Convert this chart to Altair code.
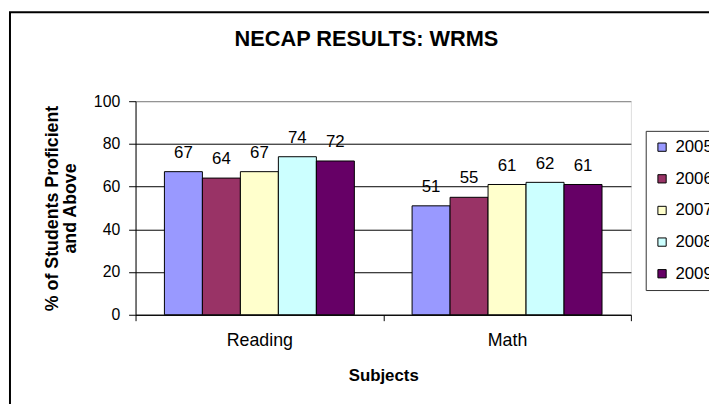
import altair as alt
import pandas as pd

subjects = ["Reading", "Math"]
years = ["2005", "2006", "2007", "2008", "2009"]
reading = [67, 64, 67, 74, 72]
math = [51, 55, 61, 62, 61]
colors = ["#9999FF", "#993366", "#FFFFCC", "#CCFFFF", "#660066"]
y_ticks = [0, 20, 40, 60, 80, 100]

rows = []
for subj, vals in zip(subjects, [reading, math]):
    for yr, v in zip(years, vals):
        rows.append({"subject": subj, "year": yr, "value": v})
df = pd.DataFrame(rows)

FONT = "Liberation Sans"

x_enc = alt.X(
    "subject:N",
    sort=subjects,
    scale=alt.Scale(paddingInner=0, paddingOuter=0),
    axis=alt.Axis(
        title="Subjects",
        labelAngle=0,
        tickBand="extent",
        tickSize=6,
        tickColor="black",
        domainColor="black",
        labelPadding=11,
        labelFontSize=18,
        labelColor="black",
        titleFontSize=17,
        titleFontWeight="bold",
        titleColor="black",
        titlePadding=18,
        labelFont=FONT,
        titleFont=FONT,
    ),
)
xoff_enc = alt.XOffset(
    "year:N", sort=years, scale=alt.Scale(paddingOuter=0.76, paddingInner=0)
)
y_enc = alt.Y(
    "value:Q",
    scale=alt.Scale(domain=[0, 100]),
    axis=alt.Axis(
        values=y_ticks,
        title=["% of Students Proficient", "and Above"],
        titleFontSize=18,
        titleFontWeight="bold",
        titleColor="black",
        titleLineHeight=18,
        titlePadding=14,
        labelFontSize=16,
        labelColor="black",
        labelPadding=9,
        tickSize=7,
        tickColor="black",
        domainColor="black",
        grid=True,
        gridColor={"condition": {"test": "datum.value === 100", "value": "#808080"}, "value": "black"},
        gridWidth=1,
        labelFont=FONT,
        titleFont=FONT,
    ),
)

base = alt.Chart(df)

bars = base.mark_bar(stroke="black", strokeWidth=1).encode(
    x=x_enc,
    xOffset=xoff_enc,
    y=y_enc,
    color=alt.Color(
        "year:N",
        sort=years,
        scale=alt.Scale(domain=years, range=colors),
        legend=alt.Legend(
            title=None,
            orient="none",
            legendX=516,
            legendY=30,
            symbolType="square",
            symbolSize=70,
            symbolStrokeColor="black",
            symbolStrokeWidth=1,
            labelFontSize=17,
            labelFont=FONT,
            labelColor="black",
            labelOffset=5,
            rowPadding=14,
            padding=8,
            strokeColor="#333333",
            fillColor="white",
        ),
    ),
)

labels = base.mark_text(
    baseline="alphabetic", dy=-14, fontSize=17, font=FONT, color="black"
).encode(
    x=x_enc,
    xOffset=xoff_enc,
    y=alt.Y("value:Q"),
    text=alt.Text("value:Q"),
)

border = alt.Chart(alt.Data(values=[{"k": 1}])).mark_rect(
    fill=None, stroke="black", strokeWidth=2
).encode(
    x=alt.value(-127), x2=alt.value(700), y=alt.value(-90), y2=alt.value(400)
)

chart = alt.layer(border, bars, labels).properties(
    width=501,
    height=216,
    title=alt.TitleParams(
        "NECAP RESULTS: WRMS",
        fontSize=22,
        font=FONT,
        fontWeight="bold",
        color="black",
        anchor="middle",
        frame="group",
        baseline="alphabetic",
        offset=-57,
        dx=-17,
    ),
    autosize=alt.AutoSizeParams(type="none"),
    padding={"left": 129, "top": 92, "right": 79, "bottom": 88},
).configure_view(
    stroke="#808080", strokeWidth=1
).configure(background="white")

chart.save("out.html", embed_options={"renderer": "svg", "actions": False})
